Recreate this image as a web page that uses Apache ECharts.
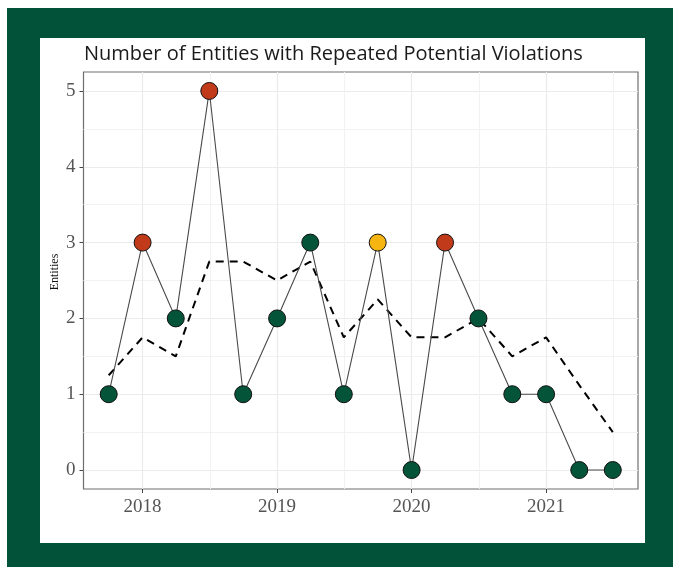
<!DOCTYPE html>
<html>
<head>
<meta charset="utf-8">
<script src="https://cdn.jsdelivr.net/npm/echarts@6/dist/echarts.min.js"></script>
<style>
  html, body { margin: 0; padding: 0; background: #ffffff; }
  #frame { position: absolute; left: 7px; top: 8px; width: 666px; height: 559px; background: #02523a; }
  #panel { position: absolute; left: 40px; top: 38px; width: 605px; height: 505px; background: #ffffff; }
  #chart { position: absolute; left: 0; top: 0; width: 673px; height: 567px; }
</style>
</head>
<body>
<div id="frame"></div>
<div id="panel"></div>
<div id="chart"></div>
<script>
// ---- data ----
const quarters = ['2017-10-01','2018-01-01','2018-04-01','2018-07-01','2018-10-01','2019-01-01','2019-04-01','2019-07-01',
                  '2019-10-01','2020-01-01','2020-04-01','2020-07-01','2020-10-01','2021-01-01','2021-04-01','2021-07-01'];
const entities = [1, 3, 2, 5, 1, 2, 3, 1, 3, 0, 3, 2, 1, 1, 0, 0];
const status   = ['normal','high','normal','high','normal','normal','normal','normal','warn','normal','high','normal','normal','normal','normal','normal'];
const rollingAvg = [1.25, 1.75, 1.5, 2.75, 2.75, 2.5, 2.75, 1.75, 2.25, 1.75, 1.75, 2.0, 1.5, 1.75, 1.12, 0.5];
const yearTicks = [2018, 2019, 2020, 2021];
const halfYearLines = [2018.5, 2019.5, 2020.5, 2021.5];
const yTicks = [0, 1, 2, 3, 4, 5];
const yHalfLines = [0.5, 1.5, 2.5, 3.5, 4.5];
const statusColor = { normal: '#04543a', high: '#c13b1a', warn: '#f6b511' };

function toYear(s) {
  const d = new Date(s + 'T00:00:00Z');
  const y = d.getUTCFullYear();
  const start = Date.UTC(y, 0, 1), end = Date.UTC(y + 1, 0, 1);
  return y + (d.getTime() - start) / (end - start);
}
const xs = quarters.map(toYear);
const xMin = xs[0], xMax = xs[xs.length - 1];
const xPad = (xMax - xMin) * 0.05;
const yPad = (5 - 0) * 0.05;

const chart = echarts.init(document.getElementById('chart'), null, { renderer: 'canvas' });
const labelFont = { fontFamily: 'Liberation Serif', fontSize: 19, color: '#555555' };
const option = {
  backgroundColor: 'transparent',
  animation: false,
  title: {
    text: 'Number of Entities with Repeated Potential Violations',
    left: 79, top: 39,
    textStyle: { fontFamily: 'Open Sans', fontSize: 20, fontWeight: 'normal', color: '#1a1a1a' }
  },
  grid: {
    left: 83.5, top: 72, right: 35, bottom: 78,
    show: true, backgroundColor: '#ffffff', borderColor: '#6e6e6e', borderWidth: 1.2,
    containLabel: false
  },
  xAxis: [{
    type: 'value', min: xMin - xPad, max: xMax + xPad, position: 'bottom',
    axisLine: { show: false, onZero: false },
    axisTick: { show: true, length: 4, lineStyle: { color: '#444', width: 1 }, customValues: yearTicks },
    axisLabel: Object.assign({ customValues: yearTicks, margin: 9, formatter: v => String(Math.round(v)) }, labelFont),
    splitLine: { show: true, lineStyle: { color: '#ebebeb', width: 1.2 } }
  }, {
    type: 'value', min: xMin - xPad, max: xMax + xPad, position: 'top',
    axisLine: { show: false, onZero: false },
    axisTick: { show: false, customValues: halfYearLines },
    axisLabel: { show: false, customValues: halfYearLines },
    splitLine: { show: true, lineStyle: { color: '#f2f2f2', width: 1 } }
  }],
  yAxis: [{
    type: 'value', min: 0 - yPad, max: 5 + yPad, position: 'left',
    axisLine: { show: false, onZero: false },
    axisTick: { show: true, length: 4, lineStyle: { color: '#444', width: 1 }, customValues: yTicks },
    axisLabel: Object.assign({ customValues: yTicks, margin: 8, formatter: v => String(Math.round(v)) }, labelFont),
    splitLine: { show: true, lineStyle: { color: '#ebebeb', width: 1.2 } }
  }, {
    type: 'value', min: 0 - yPad, max: 5 + yPad, position: 'right',
    axisLine: { show: false, onZero: false },
    axisTick: { show: false, customValues: yHalfLines },
    axisLabel: { show: false, customValues: yHalfLines },
    splitLine: { show: true, lineStyle: { color: '#f2f2f2', width: 1 } }
  }],
  graphic: [{
    type: 'text', x: 55, y: 272, rotation: Math.PI / 2,
    style: { text: 'Entities', fontFamily: 'Liberation Serif', fontSize: 12, fill: '#111', textAlign: 'center', textVerticalAlign: 'middle' }
  }],
  series: [{
    type: 'line', name: 'Rolling average',
    data: xs.map((x, i) => [x, rollingAvg[i]]),
    symbol: 'none', z: 2,
    lineStyle: { color: '#000000', width: 2, type: [8, 6] }
  }, {
    type: 'line', name: 'Entities',
    data: xs.map((x, i) => ({ value: [x, entities[i]], itemStyle: { color: statusColor[status[i]] } })),
    symbol: 'circle', symbolSize: 17, z: 3,
    lineStyle: { color: '#4a4a4a', width: 1.1 },
    itemStyle: { borderColor: '#111111', borderWidth: 1 }
  }]
};
chart.setOption(option);
</script>
</body>
</html>
